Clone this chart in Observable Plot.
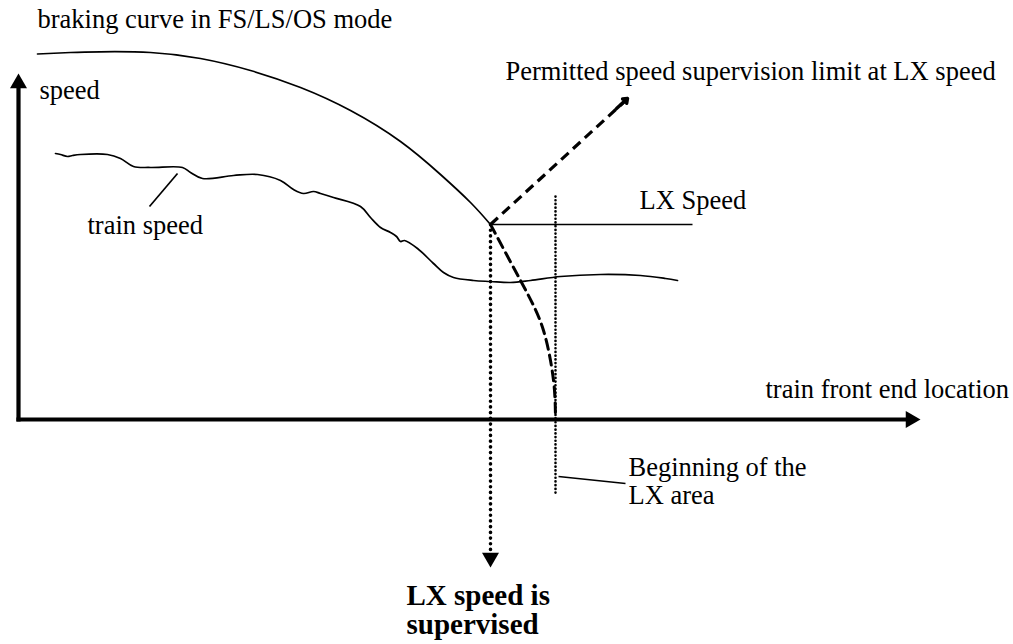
<!DOCTYPE html>
<html><head><meta charset="utf-8">
<script src="https://cdn.jsdelivr.net/npm/d3@7"></script>
<script src="https://cdn.jsdelivr.net/npm/@observablehq/plot@0.6"></script>
<style>html,body{margin:0;padding:0;background:#fff}</style>
</head><body><div id="chart"></div>
<script>
// Drawing units: x = train front end location, y = vertical drawing position (down = lower speed)
const brakingX = [37, 70, 100, 150, 200, 250, 300, 350, 400, 440, 470, 490];
const brakingY = [53.5, 52, 51.3, 52, 58, 70, 87, 110, 141, 174, 202, 224];

const brakingExtX = [490, 505, 520, 533, 543, 550, 554, 555];
const brakingExtY = [224, 252, 280, 305, 330, 360, 390, 419];

const trainX = [55, 60, 67, 72, 80, 107, 120, 133, 150, 182, 190, 202, 233, 257, 280, 293, 303, 313, 320, 333, 360, 370, 380, 390, 396, 400, 404, 417, 433, 443, 453, 473, 490, 510, 530, 560, 600, 640, 665, 677];
const trainY = [153, 154, 156, 155, 154, 154, 158, 166, 167, 167, 172, 178, 175, 174, 180, 189, 193, 191, 193, 197, 206, 217, 227, 232, 236, 241, 240, 248, 263, 272, 277, 280, 281, 282, 280, 276, 274, 275, 278, 280];

const originX = 18, originY = 419;
const axisEndX = 920, axisEndY = 73;

const lxPointX = 490, lxPointY = 224;
const lxSpeedEndX = 692;
const supervisedArrowTipY = 567;
const lxAreaX = 555, lxAreaTopY = 196, lxAreaBottomY = 495;
const permittedTipX = 627, permittedTipY = 98;

const leaderLines = [
  {x1: 149, y1: 206, x2: 177, y2: 173},
  {x1: 558, y1: 476, x2: 625, y2: 483}
];

const labels = [
  {text: "braking curve in FS/LS/OS mode", x: 37, y: 27},
  {text: "speed", x: 39, y: 98},
  {text: "Permitted speed supervision limit at LX speed", x: 505, y: 79},
  {text: "LX Speed", x: 639, y: 208},
  {text: "train speed", x: 87, y: 233},
  {text: "train front end location", x: 765, y: 397},
  {text: "Beginning of the\nLX area", x: 628, y: 503}
];
const boldLabels = [
  {text: "LX speed is\nsupervised", x: 406, y: 633}
];

const braking = brakingX.map((x, i) => ({x, y: brakingY[i]}));
const brakingExt = brakingExtX.map((x, i) => ({x, y: brakingExtY[i]}));
const train = trainX.map((x, i) => ({x, y: trainY[i]}));

const triSide = 17;
const triArea = Math.sqrt(3) / 4 * triSide * triSide;
const triR = Math.sqrt(triArea / Math.PI);
const triOff = 2 * Math.sqrt(triArea / (3 * Math.sqrt(3)));

const ink = "black";
const seg = (x1, y1, x2, y2) => [{x1, y1, x2, y2}];
const L = {x1: "x1", y1: "y1", x2: "x2", y2: "y2"};

const plot = Plot.plot({
  width: 1013,
  height: 644,
  margin: 0,
  x: {domain: [0, 1013], range: [0, 1013], axis: null},
  y: {domain: [0, 644], range: [0, 644], axis: null},
  style: {fontFamily: "'Liberation Serif', 'Times New Roman', serif", background: "white", color: ink},
  marks: [
    // axes
    Plot.link(seg(originX, originY + 2, originX, axisEndY + triOff * 1.4), {...L, stroke: ink, strokeWidth: 4.2}),
    Plot.link(seg(originX - 2.1, originY, axisEndX - triOff * 1.4, originY), {...L, stroke: ink, strokeWidth: 4.2}),
    Plot.dot([{x: originX, y: axisEndY}], {x: "x", y: "y", symbol: "triangle", r: triR, fill: ink, stroke: null, dy: triOff}),
    Plot.dot([{x: axisEndX, y: originY}], {x: "x", y: "y", symbol: "triangle", r: triR, fill: ink, stroke: null, rotate: 90, dx: -triOff}),
    // LX area dotted line
    Plot.link(seg(lxAreaX, lxAreaTopY, lxAreaX, lxAreaBottomY), {...L, stroke: ink, strokeWidth: 2.6, strokeDasharray: "0.1,3.6", strokeLinecap: "round"}),
    // supervised dotted line + arrow
    Plot.link(seg(lxPointX, lxPointY, lxPointX, supervisedArrowTipY - triOff * 1.4), {...L, stroke: ink, strokeWidth: 3.6, strokeDasharray: "0.1,5.6", strokeLinecap: "round"}),
    Plot.dot([{x: lxPointX, y: supervisedArrowTipY}], {x: "x", y: "y", symbol: "triangle", r: triR, fill: ink, stroke: null, rotate: 180, dy: -triOff}),
    // braking curve
    Plot.line(braking, {x: "x", y: "y", curve: "natural", stroke: ink, strokeWidth: 1.7}),
    Plot.line(brakingExt, {x: "x", y: "y", curve: "natural", stroke: ink, strokeWidth: 3, strokeDasharray: "10,6"}),
    // LX speed line
    Plot.link(seg(lxPointX, lxPointY, lxSpeedEndX, lxPointY), {...L, stroke: ink, strokeWidth: 1.7}),
    // permitted speed supervision dashed arrow
    Plot.link(seg(lxPointX, lxPointY, permittedTipX - 3, permittedTipY + 3), {...L, stroke: ink, strokeWidth: 3.2, strokeDasharray: "10,6"}),
    Plot.arrow(seg(permittedTipX - 0.08 * (permittedTipX - lxPointX), permittedTipY - 0.08 * (permittedTipY - lxPointY), permittedTipX, permittedTipY), {...L, stroke: ink, strokeWidth: 3.4, headLength: 20, headAngle: 75, strokeLinejoin: "miter"}),
    // train speed
    Plot.line(train, {x: "x", y: "y", curve: "catmull-rom", stroke: ink, strokeWidth: 1.7}),
    // leader lines
    Plot.link(leaderLines, {...L, stroke: ink, strokeWidth: 1.7}),
    // labels
    Plot.text(labels, {x: "x", y: "y", text: "text", textAnchor: "start", lineAnchor: "bottom", lineHeight: 1.03, fontSize: 26.5, fill: ink}),
    Plot.text(boldLabels, {x: "x", y: "y", text: "text", textAnchor: "start", lineAnchor: "bottom", lineHeight: 1.0, fontSize: 29, fontWeight: "bold", fill: ink})
  ]
});
document.getElementById("chart").appendChild(plot);
</script>
</body></html>
